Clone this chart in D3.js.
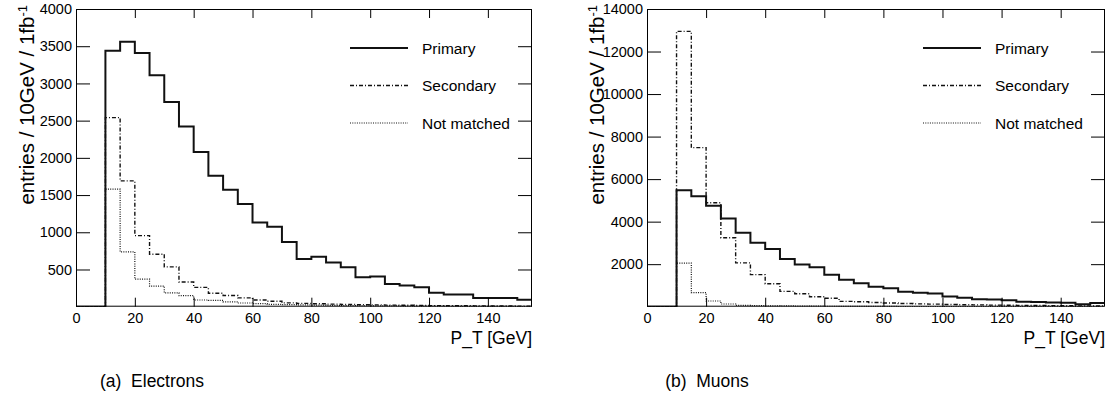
<!DOCTYPE html>
<html lang="en">
<head>
<meta charset="utf-8">
<title>P_T spectra</title>
<script src="https://cdn.jsdelivr.net/npm/d3@7"></script>
<style>
body { margin: 0; background: #fff; }
svg text { font-family: "Liberation Sans", Arial, Helvetica, sans-serif; fill: #000; }
</style>
</head>
<body>
<script>

// bin low edges (5 GeV bins), last edge 155
var binLow = [0,5,10,15,20,25,30,35,40,45,50,55,60,65,70,75,80,85,90,95,100,105,110,115,120,125,130,135,140,145,150];
var xMax = 155;
var xTicks = [0,20,40,60,80,100,120,140];

// electrons
var elePrimary   = [0,0,3440,3560,3410,3110,2750,2420,2080,1760,1570,1380,1130,1075,870,640,670,595,530,395,405,305,285,262,188,165,165,118,118,118,92];
var eleSecondary = [0,0,2540,1690,955,705,535,332,260,180,150,118,90,74,52,45,40,35,30,27,24,21,19,17,15,13,12,11,10,9,8];
var eleNotMatch  = [0,0,1580,737,370,276,186,148,90,85,65,50,40,32,28,24,20,18,15,13,12,10,9,8,7,6,5,5,4,4,3];
var eleYTicks = [500,1000,1500,2000,2500,3000,3500,4000];

// muons
var muPrimary   = [0,0,5480,5200,4750,4150,3480,3010,2710,2240,1990,1850,1500,1270,1100,940,870,700,660,620,480,420,350,340,300,230,220,200,190,120,170];
var muSecondary = [0,0,12950,7480,4890,3240,2060,1510,1080,720,610,470,400,250,230,200,175,150,135,120,105,95,85,75,68,60,55,50,45,40,36];
var muNotMatch  = [0,0,2050,660,268,127,60,50,42,36,30,26,22,19,16,14,12,10,9,8,7,6,5,5,4,4,3,3,3,2,2];
var muYTicks = [2000,4000,6000,8000,10000,12000,14000];

var legendNames = ["Primary", "Secondary", "Not matched"];
var captions = ["(a)  Electrons", "(b)  Muons"];

var W = 1111, H = 409;
var svg = d3.select("body").append("svg").attr("width", W).attr("height", H);

var styles = [
  {w: 2, dash: null},
  {w: 1.4, dash: "4,2,1,2"},
  {w: 1.2, dash: "1,1.3"}
];

function panel(opt) {
  var x = d3.scaleLinear().domain([0, xMax]).range([opt.left, opt.right]);
  var y = d3.scaleLinear().domain([0, opt.yMax]).range([opt.bottom, opt.top]);
  var g = svg.append("g");

  var clipId = "clip" + opt.id;
  g.append("clipPath").attr("id", clipId).append("rect")
    .attr("x", opt.left).attr("y", opt.top)
    .attr("width", opt.right - opt.left).attr("height", opt.bottom - opt.top);

  // histograms
  var line = d3.line().curve(d3.curveStepAfter)
    .x(function(d) { return x(d[0]); })
    .y(function(d) { return y(d[1]); });
  var series = [opt.primary, opt.secondary, opt.notmatch];
  // draw dotted first, primary last
  [2, 1, 0].forEach(function(k) {
    var pts = binLow.map(function(b, i) { return [b, series[k][i]]; });
    pts.push([xMax, series[k][series[k].length - 1]]);
    g.append("path")
      .attr("clip-path", "url(#" + clipId + ")")
      .attr("d", line(pts))
      .attr("fill", "none")
      .attr("stroke", "#111")
      .attr("stroke-width", styles[k].w)
      .attr("stroke-dasharray", styles[k].dash);
  });

  // minor ticks
  var xMinor = d3.range(0, xMax + 0.1, 5);
  var yMinor = d3.range(0, opt.yMax + 0.1, opt.yMinorStep);

  function ax(a, ticks, size, fmt) {
    return a.tickValues(ticks).tickSize(size).tickFormat(fmt);
  }
  var empty = function() { return ""; };

  // bottom
  var gb = g.append("g").attr("transform", "translate(0," + opt.bottom + ")");
  gb.call(ax(d3.axisBottom(x), xMinor, -4.5, empty));
  gb.call(ax(d3.axisBottom(x), xTicks, -9, d3.format("d")).tickPadding(6));
  // top
  var gt = g.append("g").attr("transform", "translate(0," + opt.top + ")");
  gt.call(ax(d3.axisTop(x), xMinor, -4.5, empty));
  gt.call(ax(d3.axisTop(x), xTicks, -9, empty));
  // left
  var gl = g.append("g").attr("transform", "translate(" + opt.left + ",0)");
  gl.call(ax(d3.axisLeft(y), yMinor, -7, empty));
  gl.call(ax(d3.axisLeft(y), opt.yTicks, -14, d3.format("d")).tickPadding(4));
  // right
  var gr = g.append("g").attr("transform", "translate(" + opt.right + ",0)");
  gr.call(ax(d3.axisRight(y), yMinor, -7, empty));
  gr.call(ax(d3.axisRight(y), opt.yTicks, -14, empty));

  g.selectAll(".domain").remove();
  g.selectAll(".tick line").attr("stroke", "#000").attr("stroke-width", 1);
  g.selectAll(".tick text").style("font-size", "14.5px");

  // frame
  g.append("rect")
    .attr("x", opt.left + 0.5).attr("y", opt.top + 0.5)
    .attr("width", opt.right - opt.left - 1).attr("height", opt.bottom - opt.top - 1)
    .attr("fill", "none").attr("stroke", "#000").attr("stroke-width", 1);

  // legend
  legendNames.forEach(function(name, k) {
    var ly = opt.top + 39 + k * 37.5;
    g.append("line")
      .attr("x1", opt.right - 182).attr("x2", opt.right - 124)
      .attr("y1", ly).attr("y2", ly)
      .attr("stroke", "#111")
      .attr("stroke-width", styles[k].w)
      .attr("stroke-dasharray", styles[k].dash);
    g.append("text")
      .attr("x", opt.right - 110).attr("y", ly)
      .attr("dy", "0.36em")
      .style("font-size", "15.5px")
      .text(name);
  });

  // axis titles
  g.append("text")
    .attr("x", opt.right).attr("y", opt.bottom + 37)
    .attr("text-anchor", "end")
    .style("font-size", "17.5px")
    .text("P_T [GeV]");

  var yt = g.append("text")
    .attr("transform", "translate(" + (opt.left - opt.titleOff) + "," + (opt.top - 4) + ") rotate(-90)")
    .attr("text-anchor", "end")
    .style("font-size", "20.5px");
  yt.append("tspan").text("entries / 10GeV / 1fb");
  yt.append("tspan").attr("dy", "-0.55em").style("font-size", "13px").text("-1");

  // caption
  g.append("text")
    .attr("x", opt.capX).attr("y", 387)
    .attr("text-anchor", "middle")
    .style("font-size", "17.5px")
    .style("white-space", "pre")
    .text(opt.caption);
}

panel({
  id: 0, left: 76, right: 532, top: 9, bottom: 306.7,
  yMax: 4000, yTicks: eleYTicks, yMinorStep: 100,
  primary: elePrimary, secondary: eleSecondary, notmatch: eleNotMatch,
  titleOff: 42, capX: 152, caption: captions[0]
});
panel({
  id: 1, left: 647, right: 1105, top: 9, bottom: 306.7,
  yMax: 14000, yTicks: muYTicks, yMinorStep: 500,
  primary: muPrimary, secondary: muSecondary, notmatch: muNotMatch,
  titleOff: 43, capX: 707, caption: captions[1]
});

</script>
</body>
</html>
